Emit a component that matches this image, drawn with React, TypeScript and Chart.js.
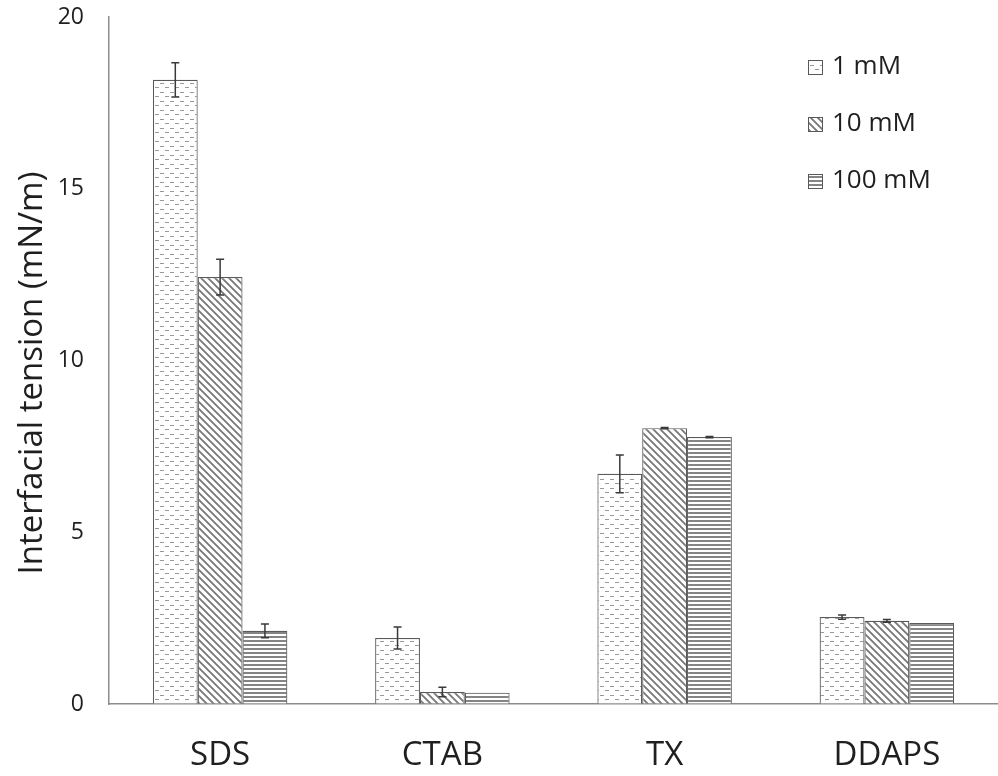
import React, { useEffect, useRef } from "react";
import { Chart, registerables } from "chart.js";

Chart.register(...registerables);

const categories = ["SDS", "CTAB", "TX", "DDAPS"];
const seriesLabels = ["1 mM", "10 mM", "100 mM"];
const values1mM = [18.17, 1.92, 6.7, 2.53];
const values10mM = [12.43, 0.35, 8.03, 2.42];
const values100mM = [2.13, 0.33, 7.77, 2.36];
const errors1mM = [0.5, 0.32, 0.55, 0.06];
const errors10mM = [0.52, 0.14, 0.02, 0.04];
const errors100mM = [0.2, 0.0, 0.02, 0.0];
const yTicks = [0, 5, 10, 15, 20];
const yTitle = "Interfacial tension (mN/m)";

const FONT = "'Open Sans', 'Liberation Sans', sans-serif";
const TEXT = "#1f1f1f";

function makePattern(kind: string): CanvasPattern | string {
  const c = document.createElement("canvas");
  const ctx = c.getContext("2d");
  if (!ctx) return "#fff";
  if (kind === "dash") {
    c.width = 10;
    c.height = 9;
    ctx.fillStyle = "#fff";
    ctx.fillRect(0, 0, 10, 9);
    ctx.fillStyle = "#999";
    ctx.fillRect(0, 2, 4, 1);
    ctx.fillRect(5, 6, 4, 1);
  } else if (kind === "diag") {
    c.width = 7;
    c.height = 7;
    ctx.fillStyle = "#fff";
    ctx.fillRect(0, 0, 7, 7);
    ctx.strokeStyle = "#777";
    ctx.lineWidth = 1.8;
    ctx.beginPath();
    ctx.moveTo(-1, -1);
    ctx.lineTo(8, 8);
    ctx.moveTo(-8, -1);
    ctx.lineTo(1, 8);
    ctx.moveTo(6, -1);
    ctx.lineTo(15, 8);
    ctx.stroke();
  } else {
    c.width = 4;
    c.height = 4;
    ctx.fillStyle = "#fff";
    ctx.fillRect(0, 0, 4, 4);
    ctx.fillStyle = "#858585";
    ctx.fillRect(0, 0, 4, 2);
  }
  const p = ctx.createPattern(c, "repeat");
  return p || "#fff";
}

export default function App() {
  const ref = useRef<HTMLCanvasElement | null>(null);

  useEffect(() => {
    document.body.style.margin = "0";
    const canvas = ref.current;
    if (!canvas) return;
    const patterns = [makePattern("dash"), makePattern("diag"), makePattern("horiz")];
    const seriesValues = [values1mM, values10mM, values100mM];
    const seriesErrors = [errors1mM, errors10mM, errors100mM];

    const errorBars = {
      id: "errorBars",
      afterDatasetsDraw(chart: any) {
        const ctx = chart.ctx;
        const ys = chart.scales.y;
        ctx.save();
        ctx.strokeStyle = "#3a3a3a";
        ctx.lineWidth = 1.5;
        chart.data.datasets.forEach((ds: any, i: number) => {
          const meta = chart.getDatasetMeta(i);
          const errs = seriesErrors[i];
          meta.data.forEach((el: any, j: number) => {
            const e = errs[j];
            if (!e) return;
            const v = ds.data[j];
            const x = el.x;
            const yTop = ys.getPixelForValue(v + e);
            const yBot = ys.getPixelForValue(v - e);
            ctx.beginPath();
            ctx.moveTo(x, yTop);
            ctx.lineTo(x, yBot);
            ctx.moveTo(x - 4, yTop);
            ctx.lineTo(x + 4, yTop);
            ctx.moveTo(x - 4, yBot);
            ctx.lineTo(x + 4, yBot);
            ctx.stroke();
          });
        });
        ctx.restore();
      },
    };

    const legendPlugin = {
      id: "customLegend",
      afterDraw(chart: any) {
        const ctx = chart.ctx;
        ctx.save();
        const x0 = 808;
        const rows = [67, 124, 181];
        chart.data.datasets.forEach((ds: any, i: number) => {
          const cy = rows[i];
          ctx.fillStyle = ds.backgroundColor;
          ctx.fillRect(x0, cy - 7, 15, 15);
          ctx.strokeStyle = "#595959";
          ctx.lineWidth = 1;
          ctx.strokeRect(x0 + 0.5, cy - 6.5, 14, 14);
          ctx.fillStyle = TEXT;
          ctx.font = `26px ${FONT}`;
          ctx.textBaseline = "middle";
          ctx.textAlign = "left";
          ctx.fillText(ds.label, x0 + 24, cy);
        });
        // y-axis title
        ctx.translate(42, 373);
        ctx.rotate(-Math.PI / 2);
        ctx.fillStyle = TEXT;
        ctx.font = `33px ${FONT}`;
        ctx.textAlign = "center";
        ctx.textBaseline = "alphabetic";
        ctx.fillText(yTitle, 0, 0);
        ctx.restore();
      },
    };

    const chart = new Chart(canvas, {
      type: "bar",
      data: {
        labels: categories,
        datasets: seriesLabels.map((label, i) => ({
          label,
          data: seriesValues[i],
          backgroundColor: patterns[i] as any,
          borderColor: "#5a5a5a",
          borderWidth: 1.2,
          barPercentage: 1,
          categoryPercentage: 0.605,
        })),
      },
      options: {
        responsive: false,
        animation: false,
        layout: { padding: { top: 17, right: 0, left: 0, bottom: 0 } },
        plugins: {
          legend: { display: false },
          tooltip: { enabled: false },
        },
        scales: {
          x: {
            grid: {
              display: true,
              drawOnChartArea: false,
              drawTicks: true,
              tickLength: 32,
              color: "rgba(0,0,0,0)",
            },
            border: { display: true, color: "#8c8c8c", width: 1.5 },
            ticks: { color: TEXT, font: { size: 33, family: FONT }, padding: 0 },
            afterFit(scale: any) {
              scale.height = 72;
            },
          },
          y: {
            min: 0,
            max: 20,
            afterBuildTicks(scale: any) {
              scale.ticks = yTicks.map((v) => ({ value: v }));
            },
            grid: {
              display: true,
              drawOnChartArea: false,
              drawTicks: true,
              tickLength: 25,
              color: "rgba(0,0,0,0)",
            },
            border: { display: true, color: "#8c8c8c", width: 1.5 },
            ticks: { color: TEXT, font: { size: 23, family: FONT }, padding: 0 },
            title: { display: false, text: yTitle },
            afterFit(scale: any) {
              scale.width = 109;
            },
          },
        },
      },
      plugins: [errorBars, legendPlugin],
    });
    return () => chart.destroy();
  }, []);

  return (
    <div style={{ position: "absolute", left: 0, top: 0, width: 998, height: 776 }}>
      <canvas ref={ref} width={998} height={776} />
    </div>
  );
}
